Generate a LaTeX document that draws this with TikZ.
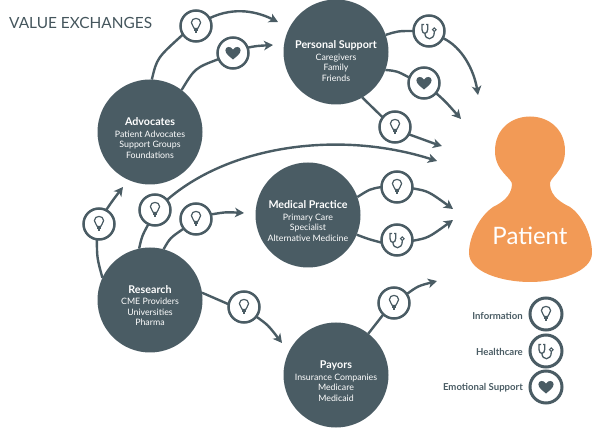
\documentclass[tikz,border=0pt]{standalone}
\usepackage{fontspec}
\setmainfont{Lato}
\usetikzlibrary{arrows.meta}
\definecolor{slate}{HTML}{4A5C64}
\definecolor{orangeP}{HTML}{F29A56}
\tikzset{
  hub/.style={circle,fill=slate,text=white,minimum size=105pt,inner sep=0pt,outer sep=0pt,align=center,font=\fontsize{8.8pt}{10.6pt}\selectfont},
  ico/.style={circle,draw=slate,fill=white,line width=2.5pt,minimum size=31pt,inner sep=0pt,outer sep=0pt},
  link/.style={draw=slate,line width=2.4pt},
  arr/.style={link,-{Stealth[length=9pt,width=9.5pt,inset=2.5pt]}},
  legendlabel/.style={text=slate,anchor=east,inner sep=0pt,font=\fontsize{9.6pt}{11pt}\selectfont\bfseries},
  bulbicon/.pic={
    \draw[slate,line width=1.2pt,fill=white] (-1.8,2.4) .. controls (-2,0) and (-4.6,-0.6) .. (-4.6,-3.4) .. controls (-4.6,-9) and (4.6,-9) .. (4.6,-3.4) .. controls (4.6,-0.6) and (2,0) .. (1.8,2.4) -- cycle;
    \fill[slate] (-2.3,2) rectangle (2.3,5.4);
    \fill[slate] (-1.4,5.2) rectangle (1.4,7);
  },
  hearticon/.pic={
    \fill[slate] (0,6.5) .. controls (-3,3.8) and (-7.6,1) .. (-7.6,-2.8) .. controls (-7.6,-6.8) and (-2,-7.2) .. (0,-3.4) .. controls (2,-7.2) and (7.6,-6.8) .. (7.6,-2.8) .. controls (7.6,1) and (3,3.8) .. (0,6.5) -- cycle;
  },
  stethicon/.pic={
    \draw[slate,line width=1.3pt] (-5,-6.5) -- (-7,-6.5) -- (-7,-1.5) .. controls (-7,3.6) and (-1.3,3.6) .. (-1.3,-1.5) -- (-1.3,-6.5) -- (-3,-6.5);
    \draw[slate,line width=1.3pt] (-4.1,2.2) .. controls (-4.1,9.5) and (5.3,10) .. (5.3,1) -- (5.3,0.5);
    \draw[slate,line width=1.1pt] (5.3,-1.3) circle[radius=1.8pt];
  }
}
\newcommand{\hubtext}[3]{\rule{0pt}{#1}{\fontsize{10.7pt}{14pt}\selectfont\bfseries #2}\\[1pt]#3}
\begin{document}
\begin{tikzpicture}[x=1pt,y=-1pt]
\useasboundingbox (0,0) rectangle (600,430);
\node[anchor=west,inner sep=0pt,text=slate!92!black,font=\fontsize{15.4pt}{18pt}\selectfont] (title) at (9,23) {VALUE EXCHANGES};

% Hubs
\node[hub] (ps) at (336,52) {\hubtext{26pt}{Personal Support}{Caregivers\\Family\\Friends}};
\node[hub] (adv) at (150,132) {\hubtext{20pt}{Advocates}{Patient Advocates\\Support Groups\\Foundations}};
\node[hub] (med) at (308,215) {\hubtext{20pt}{Medical Practice}{Primary Care\\Specialist\\Alternative Medicine}};
\node[hub] (res) at (150,300) {\hubtext{19pt}{Research}{CME Providers\\Universities\\Pharma}};
\node[hub] (pay) at (336,375) {\hubtext{20pt}{Payors}{Insurance Companies\\Medicare\\Medicaid}};

% Patient
\path[fill=orangeP] (512,185) .. controls (513,178) and (495,172) .. (495,151)
  .. controls (495,105) and (565,105) .. (565,151)
  .. controls (565,172) and (548,178) .. (550,185)
  .. controls (551,197) and (562,203) .. (570,207)
  .. controls (583,216) and (592,236) .. (592,253)
  .. controls (592,272) and (558,282) .. (530,282)
  .. controls (502,282) and (469,272) .. (469,253)
  .. controls (469,236) and (480,216) .. (493,207)
  .. controls (501,203) and (511,197) .. (512,185) -- cycle;
\node[text=white,inner sep=0pt,font=\fontsize{24pt}{26pt}\selectfont] (ptext) at (530,236) {Patient};

% Icon nodes
\node[ico] (ia) at (196,26) {};
\node[ico] (ib) at (233,53) {};
\node[ico] (ic) at (429,31) {};
\node[ico] (id) at (424,83) {};
\node[ico] (ie) at (395,127) {};
\node[ico] (il) at (99,224) {};
\node[ico] (im) at (155,210) {};
\node[ico] (ir) at (196,219) {};
\node[ico] (ip) at (244,307) {};
\node[ico] (mb) at (397,187) {};
\node[ico] (ms) at (397,240) {};
\node[ico] (py) at (394,303) {};
\node[ico,minimum size=32pt,line width=3pt] (la) at (546,314) {};
\node[ico,minimum size=32pt,line width=3pt] (lb) at (546,351) {};
\node[ico,minimum size=32pt,line width=3pt] (lc) at (546,387) {};

% Free ends
\coordinate (ta) at (278,22);
\coordinate (tb) at (273,45);
\coordinate (tc) at (478,95);
\coordinate (td) at (461,119);
\coordinate (te) at (442,146);
\coordinate (tm) at (437,161);
\coordinate (tl) at (123,187);
\coordinate (tr) at (244,213);
\coordinate (tp) at (282,343);
\coordinate (tmb) at (453,209);
\coordinate (tms) at (453,220);
\coordinate (tpy) at (437,281);

% Connectors
\path[link] (adv.88) .. controls (157,58) .. (ia.213);
\path[arr] (ia.30) .. controls (235,6) and (258,12) .. (ta);
\path[link] (adv.53) .. controls (195,68) .. (ib.203);
\path[arr] (ib.20) .. controls (256,46) .. (tb);
\path[link] (ps.19) .. controls (398,31) .. (ic.180);
\path[arr] (ic.-27) .. controls (462,47) and (474,70) .. (tc);
\path[link] (ps.-20) .. controls (397,71) .. (id.160);
\path[arr] (id.-40) .. controls (445,101) .. (td);
\path[link] (ps.-60) -- (ie.142);
\path[arr] (ie.-28) .. controls (422,140) .. (te);
\path[link] (res.102) .. controls (142,236) .. (im.245);
\path[arr] (im.40) .. controls (230,145) and (340,130) .. (tm);
\path[link] (res.75) .. controls (170,238) .. (ir.218);
\path[arr] (ir.17) .. controls (226,212) .. (tr);
\path[link] (res.155) .. controls (97,258) .. (il.262);
\path[arr] (il.63) .. controls (113,200) .. (tl);
\path[link] (res.8) .. controls (216,299) .. (ip.170);
\path[arr] (ip.-38) .. controls (268,325) .. (tp);
\path[link] (med.20) .. controls (370,189) .. (mb.180);
\path[arr] (mb.-5) .. controls (428,191) .. (tmb);
\path[link] (med.-22) .. controls (368,239) .. (ms.190);
\path[arr] (ms.-3) .. controls (428,238) .. (tms);
\path[link] (pay.52) -- (py.227);
\path[arr] (py.35) .. controls (418,286) .. (tpy);

% Icons
\foreach \n in {ia,ie,il,im,ir,ip,mb,py,la}{\pic at (\n) {bulbicon};}
\foreach \n in {ib,id,lc}{\pic at (\n) {hearticon};}
\foreach \n in {ic,ms,lb}{\pic at (\n) {stethicon};}

% Legend
\node[legendlabel] (lta) at (523,316) {Information};
\node[legendlabel] (ltb) at (523,352) {Healthcare};
\node[legendlabel] (ltc) at (523,388) {Emotional Support};
\end{tikzpicture}
\end{document}
